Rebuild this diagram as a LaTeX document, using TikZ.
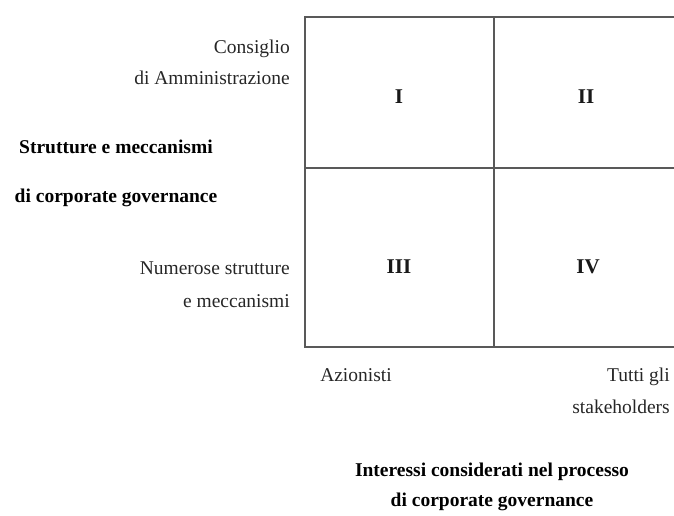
\documentclass[tikz,border=0pt]{standalone}
\usepackage{fontspec}
\setmainfont{Liberation Serif}
\usepackage{tikz}
\usetikzlibrary{positioning}
\tikzset{
	gridline/.style={draw=black!65, line width=1.7pt},
	axislab/.style={font=\fontsize{19.5}{31}\selectfont, text=black!85, inner sep=0pt},
	axistitle/.style={font=\fontsize{19.5}{49}\selectfont\bfseries, text=black, inner sep=0pt, align=center},
	quadlab/.style={font=\fontsize{21}{22}\selectfont\bfseries, text=black!90, inner sep=0pt}
}

\begin{document}
\begin{tikzpicture}[x=1pt, y=-1pt]
			\useasboundingbox (0,0) rectangle (674,516);
			% griglia
			\coordinate (tl) at (305,17);
			\coordinate (br) at (676,347);
			\draw[gridline] (tl) rectangle (br);
			\draw[gridline] (494,17) -- (494,347);
			\draw[gridline] (305,168) -- (676,168);
			% quadranti
			\node[quadlab] (q1) at (399,97) {I};
			\node[quadlab] (q2) at (586,97) {II};
			\node[quadlab] (q3) at (399,267) {III};
			\node[quadlab] (q4) at (588,267) {IV};
			% asse verticale
			\node[axislab, anchor=east, align=right] (cda) at (290,62) {Consiglio\\di Amministrazione};
			\node[axislab, anchor=east, align=right, font=\fontsize{19.5}{33}\selectfont] (nsm) at (290,285) {Numerose strutture\\e meccanismi};
			\node[axistitle] (vtit) at (116,173) {Strutture e meccanismi\\di corporate governance};
			% asse orizzontale
			\node[axislab] (az) at (356,375) {Azionisti};
			\node[axislab, anchor=east, align=right, font=\fontsize{19.5}{32}\selectfont] (ts) at (670,391) {Tutti gli\\stakeholders};
			\node[axistitle, font=\fontsize{19.5}{30}\selectfont\bfseries] (htit) at (492,487) {Interessi considerati nel processo\\di corporate governance};
		\end{tikzpicture}
\end{document}
